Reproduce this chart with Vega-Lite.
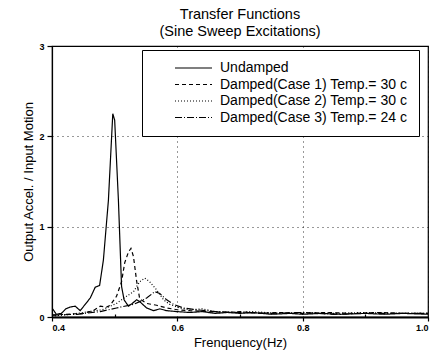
{
  "$schema": "https://vega.github.io/schema/vega-lite/v6.json",
  "autosize": "none",
  "width": 376,
  "height": 271,
  "padding": {"left": 52, "top": 46, "right": 4, "bottom": 46},
  "background": "white",
  "title": {
    "text": ["Transfer Functions", "(Sine Sweep Excitations)"],
    "font": "Liberation Sans",
    "fontSize": 14.5,
    "fontWeight": "normal",
    "lineHeight": 17,
    "offset": 3,
    "color": "black"
  },
  "config": {
    "view": {"stroke": "black", "strokeWidth": 1.2},
    "font": "Liberation Sans",
    "axis": {
      "domainColor": "black",
      "tickColor": "black",
      "labelColor": "black",
      "titleColor": "black",
      "labelFont": "Liberation Sans",
      "titleFont": "Liberation Sans",
      "labelFontWeight": "bold",
      "labelFontSize": 9,
      "titleFontSize": 13,
      "titleFontWeight": "normal",
      "gridColor": "black",
      "gridDash": [1, 4],
      "tickWidth": 1.2
    }
  },
  "data": {
    "values": [
      {"s": "U", "f": 0.400, "v": 0.10}, {"s": "U", "f": 0.407, "v": 0.03}, {"s": "U", "f": 0.415, "v": 0.04},
      {"s": "U", "f": 0.422, "v": 0.09}, {"s": "U", "f": 0.429, "v": 0.11}, {"s": "U", "f": 0.437, "v": 0.12},
      {"s": "U", "f": 0.445, "v": 0.07}, {"s": "U", "f": 0.453, "v": 0.14}, {"s": "U", "f": 0.461, "v": 0.21},
      {"s": "U", "f": 0.469, "v": 0.33}, {"s": "U", "f": 0.476, "v": 0.35}, {"s": "U", "f": 0.482, "v": 0.63},
      {"s": "U", "f": 0.490, "v": 1.29}, {"s": "U", "f": 0.497, "v": 2.25}, {"s": "U", "f": 0.500, "v": 2.18},
      {"s": "U", "f": 0.506, "v": 1.29}, {"s": "U", "f": 0.511, "v": 0.34}, {"s": "U", "f": 0.515, "v": 0.19},
      {"s": "U", "f": 0.522, "v": 0.12}, {"s": "U", "f": 0.528, "v": 0.15}, {"s": "U", "f": 0.535, "v": 0.19},
      {"s": "U", "f": 0.540, "v": 0.17}, {"s": "U", "f": 0.551, "v": 0.10}, {"s": "U", "f": 0.562, "v": 0.07},
      {"s": "U", "f": 0.572, "v": 0.09}, {"s": "U", "f": 0.583, "v": 0.07}, {"s": "U", "f": 0.599, "v": 0.06},
      {"s": "U", "f": 0.62, "v": 0.05}, {"s": "U", "f": 0.64, "v": 0.06}, {"s": "U", "f": 0.66, "v": 0.04},
      {"s": "U", "f": 0.68, "v": 0.05}, {"s": "U", "f": 0.70, "v": 0.04}, {"s": "U", "f": 0.72, "v": 0.05},
      {"s": "U", "f": 0.75, "v": 0.03}, {"s": "U", "f": 0.78, "v": 0.04}, {"s": "U", "f": 0.80, "v": 0.03},
      {"s": "U", "f": 0.83, "v": 0.04}, {"s": "U", "f": 0.86, "v": 0.03}, {"s": "U", "f": 0.90, "v": 0.04},
      {"s": "U", "f": 0.93, "v": 0.03}, {"s": "U", "f": 0.96, "v": 0.04}, {"s": "U", "f": 1.00, "v": 0.03},

      {"s": "C1", "f": 0.400, "v": 0.02}, {"s": "C1", "f": 0.423, "v": 0.03}, {"s": "C1", "f": 0.450, "v": 0.04},
      {"s": "C1", "f": 0.466, "v": 0.07}, {"s": "C1", "f": 0.477, "v": 0.12}, {"s": "C1", "f": 0.487, "v": 0.11},
      {"s": "C1", "f": 0.493, "v": 0.13}, {"s": "C1", "f": 0.503, "v": 0.23}, {"s": "C1", "f": 0.511, "v": 0.39},
      {"s": "C1", "f": 0.516, "v": 0.60}, {"s": "C1", "f": 0.522, "v": 0.72}, {"s": "C1", "f": 0.526, "v": 0.76},
      {"s": "C1", "f": 0.530, "v": 0.67}, {"s": "C1", "f": 0.535, "v": 0.40}, {"s": "C1", "f": 0.540, "v": 0.20},
      {"s": "C1", "f": 0.551, "v": 0.15}, {"s": "C1", "f": 0.567, "v": 0.13}, {"s": "C1", "f": 0.583, "v": 0.10},
      {"s": "C1", "f": 0.60, "v": 0.08}, {"s": "C1", "f": 0.62, "v": 0.07}, {"s": "C1", "f": 0.65, "v": 0.06},
      {"s": "C1", "f": 0.68, "v": 0.05}, {"s": "C1", "f": 0.70, "v": 0.06}, {"s": "C1", "f": 0.73, "v": 0.04},
      {"s": "C1", "f": 0.76, "v": 0.05}, {"s": "C1", "f": 0.80, "v": 0.04}, {"s": "C1", "f": 0.84, "v": 0.05},
      {"s": "C1", "f": 0.88, "v": 0.04}, {"s": "C1", "f": 0.92, "v": 0.05}, {"s": "C1", "f": 0.96, "v": 0.04},
      {"s": "C1", "f": 1.00, "v": 0.04},

      {"s": "C2", "f": 0.400, "v": 0.01}, {"s": "C2", "f": 0.430, "v": 0.03}, {"s": "C2", "f": 0.450, "v": 0.05},
      {"s": "C2", "f": 0.480, "v": 0.08}, {"s": "C2", "f": 0.503, "v": 0.15}, {"s": "C2", "f": 0.519, "v": 0.23},
      {"s": "C2", "f": 0.530, "v": 0.28}, {"s": "C2", "f": 0.540, "v": 0.39}, {"s": "C2", "f": 0.548, "v": 0.43},
      {"s": "C2", "f": 0.556, "v": 0.39}, {"s": "C2", "f": 0.567, "v": 0.30}, {"s": "C2", "f": 0.578, "v": 0.19},
      {"s": "C2", "f": 0.588, "v": 0.14}, {"s": "C2", "f": 0.604, "v": 0.10}, {"s": "C2", "f": 0.62, "v": 0.08},
      {"s": "C2", "f": 0.64, "v": 0.09}, {"s": "C2", "f": 0.66, "v": 0.06}, {"s": "C2", "f": 0.69, "v": 0.05},
      {"s": "C2", "f": 0.72, "v": 0.06}, {"s": "C2", "f": 0.76, "v": 0.04}, {"s": "C2", "f": 0.80, "v": 0.05},
      {"s": "C2", "f": 0.85, "v": 0.04}, {"s": "C2", "f": 0.90, "v": 0.05}, {"s": "C2", "f": 0.95, "v": 0.04},
      {"s": "C2", "f": 1.00, "v": 0.04},

      {"s": "C3", "f": 0.400, "v": 0.02}, {"s": "C3", "f": 0.440, "v": 0.03}, {"s": "C3", "f": 0.477, "v": 0.06},
      {"s": "C3", "f": 0.503, "v": 0.10}, {"s": "C3", "f": 0.530, "v": 0.14}, {"s": "C3", "f": 0.540, "v": 0.17},
      {"s": "C3", "f": 0.551, "v": 0.21}, {"s": "C3", "f": 0.564, "v": 0.28}, {"s": "C3", "f": 0.572, "v": 0.26},
      {"s": "C3", "f": 0.583, "v": 0.19}, {"s": "C3", "f": 0.594, "v": 0.14}, {"s": "C3", "f": 0.61, "v": 0.10},
      {"s": "C3", "f": 0.63, "v": 0.08}, {"s": "C3", "f": 0.66, "v": 0.06}, {"s": "C3", "f": 0.70, "v": 0.05},
      {"s": "C3", "f": 0.75, "v": 0.04}, {"s": "C3", "f": 0.80, "v": 0.05}, {"s": "C3", "f": 0.85, "v": 0.03},
      {"s": "C3", "f": 0.90, "v": 0.04}, {"s": "C3", "f": 0.95, "v": 0.04}, {"s": "C3", "f": 1.00, "v": 0.04}
    ]
  },
  "mark": {"type": "line", "color": "black", "strokeWidth": 1.2, "clip": true},
  "encoding": {
    "x": {
      "field": "f",
      "type": "quantitative",
      "scale": {"domain": [0.4, 1.0], "nice": false, "zero": false},
      "axis": {
        "title": "Frenquency(Hz)",
        "values": [0.4, 0.5, 0.6, 0.7, 0.8, 0.9, 1.0],
        "format": ".1f",
        "labelExpr": "round(datum.value * 10) % 2 == 0 ? datum.label : ''",
        "grid": true,
        "gridOpacity": {"condition": {"test": "round(datum.value * 10) % 2 == 0", "value": 0.8}, "value": 0},
        "tickSize": {"condition": {"test": "round(datum.value * 10) % 2 == 0", "value": 4}, "value": -3},
        "domainWidth": 2,
        "labelPadding": 2,
        "titlePadding": 4
      }
    },
    "y": {
      "field": "v",
      "type": "quantitative",
      "scale": {"domain": [0, 3], "nice": false},
      "axis": {
        "title": "Output Accel. / Input Motion",
        "values": [0, 0.5, 1, 1.5, 2, 2.5, 3],
        "format": "d",
        "labelExpr": "datum.value % 1 == 0 ? datum.label : ''",
        "grid": true,
        "gridOpacity": {"condition": {"test": "datum.value % 1 == 0", "value": 0.8}, "value": 0},
        "tickSize": {"condition": {"test": "datum.value % 1 == 0", "value": 5}, "value": 2},
        "domainWidth": 1.2,
        "labelPadding": 3,
        "titlePadding": 3
      }
    },
    "strokeDash": {
      "field": "s",
      "type": "nominal",
      "scale": {
        "domain": ["U", "C1", "C2", "C3"],
        "range": [[1, 0], [4, 3], [1, 2], [7, 2, 1, 2]]
      },
      "legend": {
        "title": null,
        "orient": "none",
        "legendX": 90,
        "legendY": 4,
        "labelExpr": "datum.value == 'U' ? 'Undamped' : datum.value == 'C1' ? 'Damped(Case 1) Temp.= 30 c' : datum.value == 'C2' ? 'Damped(Case 2) Temp.= 30 c' : 'Damped(Case 3) Temp.= 24 c'",
        "symbolType": "M15,0H52",
        "symbolSize": 4,
        "symbolStrokeColor": "black",
        "symbolStrokeWidth": 1.2,
        "labelFont": "Liberation Sans",
        "labelFontSize": 14,
        "labelColor": "black",
        "labelOffset": 53,
        "labelLimit": 300,
        "rowPadding": 2.5,
        "padding": 11,
        "fillColor": "white",
        "strokeColor": "black"
      }
    }
  }
}
